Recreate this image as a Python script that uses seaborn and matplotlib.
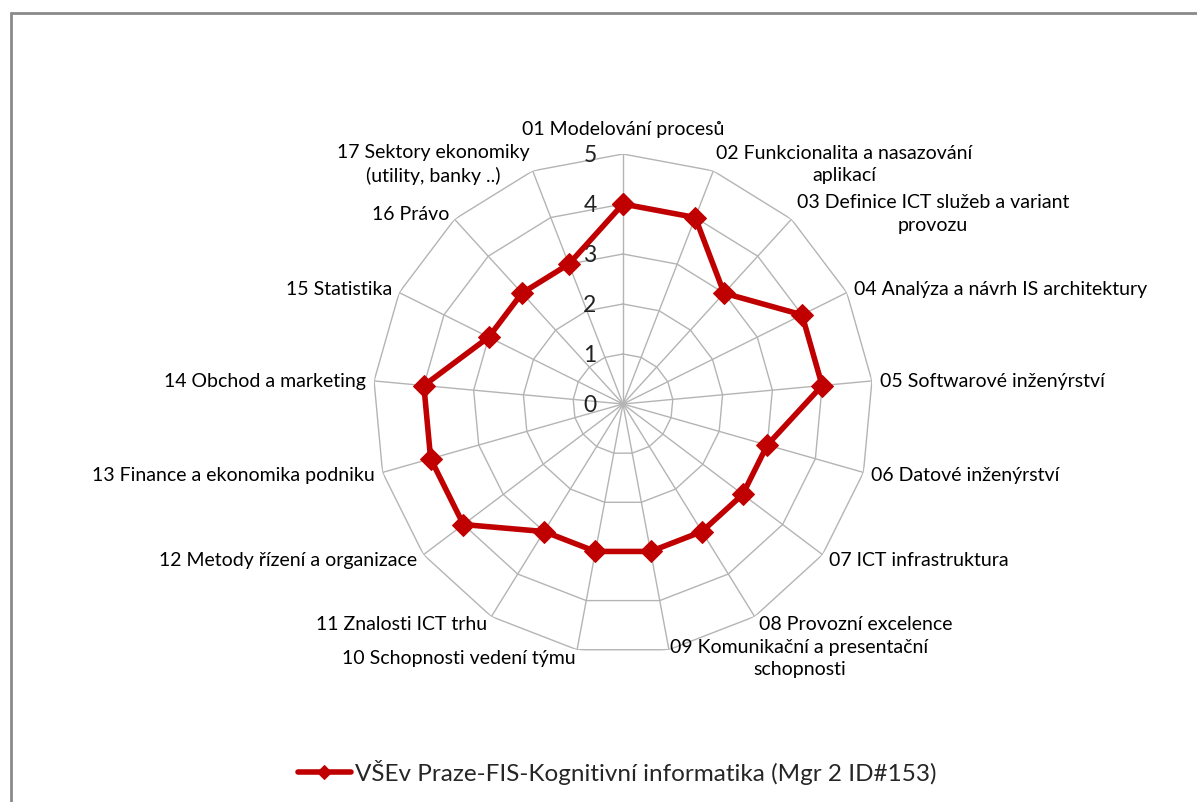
import numpy as np
import pandas as pd
import matplotlib
matplotlib.use("Agg")
import matplotlib.pyplot as plt
import matplotlib.patheffects as pe
from matplotlib.patches import Rectangle
import seaborn as sns

# Competence areas and scores
categories = [
    "01 Modelování procesů",
    "02 Funkcionalita a nasazování\naplikací",
    "03 Definice ICT služeb a variant\nprovozu",
    "04 Analýza a návrh IS architektury",
    "05 Softwarové inženýrství",
    "06 Datové inženýrství",
    "07 ICT infrastruktura",
    "08 Provozní excelence",
    "09 Komunikační a presentační\nschopnosti",
    "10 Schopnosti vedení týmu",
    "11 Znalosti ICT trhu",
    "12 Metody řízení a organizace",
    "13 Finance a ekonomika podniku",
    "14 Obchod a marketing",
    "15 Statistika",
    "16 Právo",
    "17 Sektory ekonomiky\n(utility, banky ..)",
]
scores = [4, 4, 3, 4, 4, 3, 3, 3, 3, 3, 3, 4, 4, 4, 3, 3, 3]
ring_levels = [0, 1, 2, 3, 4, 5]
series_name = "VŠEv Praze-FIS-Kognitivní informatika (Mgr 2 ID#153)"

sns.set_style("white")
plt.rcParams["font.family"] = ["Lato", "DejaVu Sans"]

W, H, DPI = 1197, 803, 100
fig = plt.figure(figsize=(W / DPI, H / DPI), dpi=DPI)
fig.patch.set_facecolor("white")

# Chart-area frame (only top and left edges fall inside the canvas)
fig.patches.append(Rectangle((10.5 / W, -0.2), 1.5, 1.2 - 13.5 / H,
                             transform=fig.transFigure, fill=False,
                             edgecolor="#8a8a8a", linewidth=2.0))

cx, cy, R = 623, 405, 250
ax = fig.add_axes([(cx - R) / W, 1 - (cy + R) / H, 2 * R / W, 2 * R / H],
                  projection="polar")
ax.set_theta_zero_location("N")
ax.set_theta_direction(-1)
ax.set_ylim(0, 5)
ax.grid(False)
ax.spines["polar"].set_visible(False)
ax.set_xticks([])
ax.set_yticks([])
ax.patch.set_alpha(0)

n = len(categories)
angles = np.arange(n) * 2 * np.pi / n
closed = np.append(angles, angles[0])

grid_kw = dict(color="#b4b4b4", linewidth=1.0, zorder=1)
for lvl in ring_levels[1:]:
    ax.plot(closed, [lvl] * (n + 1), **grid_kw)
for a in angles:
    ax.plot([a, a], [0, ring_levels[-1]], **grid_kw)

# Radial value labels along the top spoke
for lvl in ring_levels:
    ax.annotate(str(lvl), xy=(0, lvl), xytext=(-19, 0), textcoords="offset points",
                ha="right", va="center", fontsize=16.5, color="#222222")

# Category labels around the outer ring
for a, lab in zip(angles, categories):
    s, c = np.sin(a), np.cos(a)
    if abs(s) < 0.05:
        ha = "center"
    elif s > 0:
        ha = "left"
    else:
        ha = "right"
    if c > 0.99:
        va, dx, dy = "bottom", 0, 12
    else:
        va, dx, dy = "center", 5.8 * s, 5.8 * c
    ax.annotate(lab, xy=(a, ring_levels[-1]), xytext=(dx, dy),
                textcoords="offset points", ha=ha, va=va,
                multialignment="center", fontsize=14, linespacing=1.4,
                color="black", annotation_clip=False)

df = pd.DataFrame({"angle": closed, "score": scores + scores[:1]})
sns.lineplot(data=df, x="angle", y="score", sort=False, estimator=None,
             ax=ax, color="#C00000", linewidth=4.0, marker="D",
             markersize=11, markeredgecolor="#C00000", label=series_name,
             zorder=5,
             path_effects=[pe.SimpleLineShadow(offset=(2.5, -2.5),
                                               shadow_color="black", alpha=0.18,
                                               linewidth=6),
                           pe.Normal()])
ax.set_xlabel("")
ax.set_ylabel("")
ax.set_ylim(0, 5)

handles, labels = ax.get_legend_handles_labels()
ax.legend_.remove()
for h in handles:
    h.set_path_effects([])
fig.legend(handles, labels, loc="center", bbox_to_anchor=(617 / W, 1 - 773 / H),
           frameon=False, fontsize=17.5, handlelength=2.2, handletextpad=0.15,
           markerscale=0.65, borderaxespad=0)

fig.savefig("out.png", dpi=DPI)
